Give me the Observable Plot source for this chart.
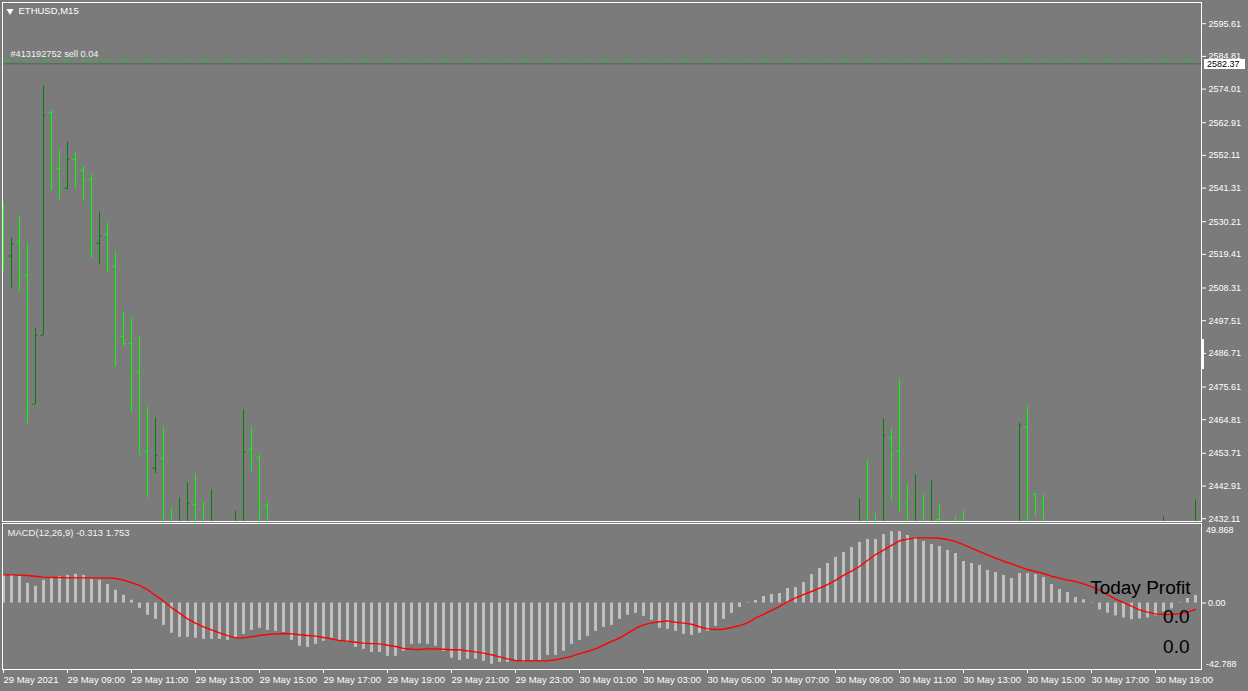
<!DOCTYPE html>
<html><head><meta charset="utf-8">
<script src="https://cdn.jsdelivr.net/npm/d3@7"></script>
<script src="https://cdn.jsdelivr.net/npm/@observablehq/plot@0.6"></script>
<style>
html,body{margin:0;padding:0;background:#7b7b7b;}
#wrap{position:relative;width:1248px;height:691px;background:#7b7b7b;overflow:hidden;}
#wrap svg{display:block;position:absolute;left:0;}
.tag{position:absolute;background:#fff;color:#000;font:9px "Liberation Sans",Arial,sans-serif;line-height:10px;height:10px;padding:0 0 0 3px;box-sizing:border-box;}
.scroll{position:absolute;background:#fff;}
</style></head><body><div id="wrap"></div>
<script>
// ---------- data ----------
const symbolLabel = "ETHUSD,M15";
const orderLabel = "#413192752 sell 0.04";
const macdLabel = "MACD(12,26,9) -0.313 1.753";
const profitTitle = "Today Profit";
const profitValues = ["0.0", "0.0"];
const startTime = "2021-05-29T07:00:00Z";
const barMinutes = 15;
const sellPrice = 2583.5;
const bidPrice = 2582.37;
const priceTicks = [2595.61, 2584.81, 2574.01, 2562.91, 2552.11, 2541.31, 2530.21, 2519.41, 2508.31,
  2497.51, 2486.71, 2475.61, 2464.81, 2453.71, 2442.91, 2432.11];
const macdMax = 49.868, macdMin = -42.788;
const timeTickLabels = ["29 May 2021", "29 May 09:00", "29 May 11:00", "29 May 13:00", "29 May 15:00",
  "29 May 17:00", "29 May 19:00", "29 May 21:00", "29 May 23:00", "30 May 01:00", "30 May 03:00",
  "30 May 05:00", "30 May 07:00", "30 May 09:00", "30 May 11:00", "30 May 13:00", "30 May 15:00",
  "30 May 17:00", "30 May 19:00"];

// OHLC bars (bar index counted from 29 May 07:00, M15)
const barIndex = [0,1,2,3,4,5,6,7,8,9,10,11,12,13,14,15,16,17,18,19,20,21,22,23,24,25,26,29,30,31,32,33,
  107,108,109,110,111,112,113,114,115,116,117,119,120,127,128,129,130,145,149];
const barOpen = [2527.0,2518.88,2523.74,2512.51,2469.90,2492.69,2566.35,2547.85,2541.24,2550.82,2547.19,2544.21,
  2523.08,2526.05,2515.48,2492.36,2490.05,2480.47,2454.37,2448.76,2452.06,2429.5,2424.0,2428.0,2436.87,2430.0,
  2425.0,2424.0,2429.0,2455.03,2452.39,2436.54,
  2426.0,2431.0,2430.0,2429.0,2458.77,2454.47,2436.97,2427.0,2430.0,2426.0,2431.9,2431.0,2430.0,2429.0,2462.40,
  2440.27,2436.97,2428.0,2427.0];
const barHigh = [2536.29,2524.83,2532.09,2523.08,2495.10,2575.03,2566.78,2553.89,2556.54,2552.90,2548.51,2545.97,
  2533.41,2529.68,2520.43,2500.29,2498.40,2492.46,2468.91,2465.37,2462.40,2435.64,2438.95,2443.90,2446.87,2437.53,
  2441.59,2434.65,2468.01,2462.40,2453.05,2437.20,
  2438.62,2451.17,2433.76,2465.04,2461.74,2478.25,2443.57,2446.54,2440.27,2444.56,2436.97,2432.67,2434.65,2463.72,
  2469.34,2440.27,2439.94,2432.67,2438.29];
const barLow = [2513.70,2508.31,2507.09,2463.49,2469.90,2492.69,2540.45,2537.48,2540.78,2541.11,2537.15,2517.99,
  2516.01,2513.36,2482.32,2488.92,2467.12,2453.38,2439.05,2446.97,2426.5,2424.0,2422.0,2424.0,2424.0,2423.0,
  2422.0,2421.0,2426.0,2447.63,2430.0,2427.0,
  2424.0,2425.0,2425.0,2426.0,2437.96,2434.09,2427.0,2425.0,2424.0,2423.0,2426.0,2426.0,2425.0,2426.0,2429.0,
  2433.00,2428.0,2425.0,2425.0];
const barClose = [2518.45,2522.75,2512.51,2469.57,2492.69,2565.45,2547.85,2541.90,2550.82,2547.19,2543.88,2522.75,
  2525.39,2515.81,2491.37,2490.05,2480.47,2453.38,2447.44,2453.05,2429.0,2425.5,2430.0,2437.20,2427.0,2426.0,
  2430.0,2430.5,2454.04,2452.72,2435.55,2429.0,
  2430.0,2428.0,2427.0,2459.66,2453.05,2435.97,2430.0,2431.0,2427.0,2430.0,2428.0,2428.0,2428.0,2462.96,2439.61,
  2436.30,2430.0,2431.0,2431.0];

// MACD main (histogram) and signal, one value per bar (150 bars)
const macdHist = [18.5,18.3,17.6,13.0,11.0,15.0,16.3,17.6,18.3,18.9,
  18.3,15.6,15.0,12.3,8.4,5.1,1.8,-3.5,-8.1,-10.8,
  -14.8,-20.0,-22.7,-22.7,-23.3,-24.0,-24.0,-24.0,-24.7,-22.7,
  -20.7,-18.1,-16.7,-18.1,-18.7,-19.4,-24.7,-28.6,-29.3,-27.3,
  -25.3,-23.3,-25.3,-26.0,-29.3,-30.6,-32.6,-32.6,-35.2,-35.2,
  -31.9,-27.3,-27.0,-27.3,-28.6,-31.9,-36.5,-37.9,-37.2,-37.2,
  -38.5,-40.5,-39.2,-39.2,-38.5,-39.2,-37.9,-37.9,-34.6,-34.6,
  -31.9,-27.3,-24.7,-22.0,-18.7,-16.1,-14.8,-10.8,-8.1,-6.8,
  -8.8,-11.4,-16.7,-17.4,-18.7,-20.7,-21.4,-20.0,-18.7,-15.4,
  -10.8,-6.8,-2.9,0.3,1.7,4.3,5.6,6.3,9.6,10.2,
  13.5,18.8,22.8,26.1,30.1,33.4,36.7,40.0,42.0,42.0,
  45.2,47.2,47.2,44.6,43.3,40.6,38.6,37.3,34.7,32.7,
  27.4,26.1,24.8,21.5,20.1,18.2,16.2,19.5,19.5,18.8,
  16.8,12.2,8.9,6.9,3.6,2.1,0.2,-4.5,-6.7,-8.5,
  -9.8,-11.1,-10.5,-9.8,-8.5,-5.8,-3.9,0.3,3.0,5.0];
const macdSignal = [18.6,18.6,18.4,18.2,17.7,17.1,16.8,16.8,16.6,16.6,
  16.6,16.6,16.6,16.6,16.2,15.1,13.5,11.6,8.9,5.0,
  1.2,-3.0,-6.7,-10.5,-13.3,-15.7,-17.7,-19.7,-21.5,-23.0,
  -23.0,-22.3,-21.5,-20.8,-20.4,-20.1,-20.4,-21.0,-21.5,-21.9,
  -22.8,-23.7,-24.8,-25.2,-25.9,-26.5,-26.8,-27.0,-27.9,-28.7,
  -30.0,-30.5,-30.7,-30.3,-30.3,-30.5,-30.9,-30.9,-31.6,-32.3,
  -33.1,-34.2,-35.6,-36.9,-38.0,-38.2,-38.2,-38.2,-38.2,-37.5,
  -36.4,-35.3,-33.4,-32.0,-30.3,-27.9,-25.4,-23.2,-20.1,-16.8,
  -14.4,-13.1,-12.4,-11.8,-12.7,-13.3,-14.0,-15.7,-17.1,-17.5,
  -17.3,-16.2,-14.9,-13.1,-10.0,-7.5,-4.8,-2.3,0.8,3.4,
  5.6,7.6,9.8,12.2,14.9,18.2,21.0,24.1,28.1,32.0,
  34.9,38.0,41.1,42.2,43.0,43.0,43.0,42.8,41.9,40.6,
  38.6,36.2,34.0,31.8,29.6,27.6,25.9,23.9,22.1,20.8,
  19.5,17.7,16.4,15.1,14.2,12.6,10.8,8.4,5.6,2.6,
  0.2,-2.0,-4.5,-6.0,-7.2,-7.6,-7.6,-7.0,-6.0,-4.2];

// ---------- styles ----------
const FONT = '"Liberation Sans", Arial, sans-serif';
const UP = "#008000", DOWN = "#00ff00";
const HIST = "#c0c0c0", SIGNAL = "#ff0000";

// ---------- build ----------
const t0 = Date.parse(startTime), barMs = barMinutes * 60000;
const T = i => new Date(t0 + i * barMs);
const xDomain = [T(0), T(149.75)], xRange = [3, 1201];

const bars = barIndex.map((i, k) => ({i, t: T(i), o: barOpen[k], h: barHigh[k], l: barLow[k], c: barClose[k]}));
const barColor = d => d.c >= d.o ? UP : DOWN;
const hist = macdHist.map((v, i) => ({t: T(i), v}));
const sig = macdSignal.map((v, i) => ({t: T(i), v}));
const timeTicks = timeTickLabels.map((_, j) => T(j * 8));
const labelMap = new Map(timeTicks.map((d, j) => [+d, timeTickLabels[j]]));

const wrap = document.getElementById("wrap");

const price = Plot.plot({
  width: 1248, height: 522,
  marginLeft: 2, marginRight: 47, marginTop: 2, marginBottom: 1,
  style: {background: "transparent", fontFamily: FONT, fontSize: "9px", color: "#fff", overflow: "visible"},
  x: {type: "utc", domain: xDomain, range: xRange, axis: null},
  y: {domain: [2432.11, 2595.61], range: [518.2, 23.2]},
  marks: [
    Plot.ruleY([bidPrice], {stroke: "#5e5e5e"}),
    Plot.ruleY([sellPrice], {stroke: "#00dd00", strokeDasharray: "8.3,4.3,3,4.4"}),
    Plot.ruleX(bars, {x: "t", y1: "l", y2: "h", stroke: barColor, clip: true}),
    Plot.ruleY(bars, {y: "o", x1: d => T(d.i - 0.3125), x2: "t", stroke: barColor, clip: true}),
    Plot.ruleY(bars, {y: "c", x1: "t", x2: d => T(d.i + 0.3125), stroke: barColor, clip: true}),
    Plot.frame({stroke: "#ffffff"}),
    Plot.axisY(priceTicks, {anchor: "right", tickSize: 4, tickPadding: 3, tickFormat: d => d.toFixed(2),
      color: "#ffffff", fontSize: 9, label: null}),
    Plot.dot([symbolLabel], {frameAnchor: "top-left", dx: 7.5, dy: 8.5, symbol: "triangle", rotate: 180, r: 2.6,
      fill: "#ffffff", stroke: "none"}),
    Plot.text([symbolLabel], {frameAnchor: "top-left", dx: 16, dy: 5, lineAnchor: "top", text: d => d,
      textAnchor: "start", fill: "#ffffff", fontSize: 9.5}),
    Plot.text([orderLabel], {y: () => sellPrice, frameAnchor: "left", dx: 8, dy: -6.5, text: d => d,
      textAnchor: "start", fill: "#f4f4f4", fontSize: 9.2})
  ]
});
price.style.top = "0px";
wrap.appendChild(price);

const macd = Plot.plot({
  width: 1248, height: 169,
  marginLeft: 2, marginRight: 47, marginTop: 1, marginBottom: 22,
  style: {background: "transparent", fontFamily: FONT, fontSize: "9px", color: "#fff", overflow: "visible"},
  x: {type: "utc", domain: xDomain, range: xRange},
  y: {domain: [macdMin, macdMax], range: [145.3, 5]},
  marks: [
    Plot.ruleX(hist, {x: "t", y1: 0, y2: "v", stroke: HIST, strokeWidth: 3}),
    Plot.line(sig, {x: "t", y: "v", stroke: SIGNAL, strokeWidth: 1.4}),
    Plot.frame({stroke: "#ffffff"}),
    Plot.axisY([0], {anchor: "right", tickSize: 4, tickPadding: 2.5, tickFormat: d => d.toFixed(2),
      color: "#ffffff", fontSize: 9, label: null}),
    Plot.text([macdMax], {y: d => d, frameAnchor: "right", dx: 4.5, dy: 2.5, text: d => d.toFixed(3),
      textAnchor: "start", fill: "#ffffff", fontSize: 9}),
    Plot.text([macdMin], {y: d => d, frameAnchor: "right", dx: 4.5, dy: -4, text: d => d.toFixed(3),
      textAnchor: "start", fill: "#ffffff", fontSize: 9}),
    Plot.axisX(timeTicks, {anchor: "bottom", tickSize: 4, tickPadding: 3, tickFormat: d => labelMap.get(+d),
      textAnchor: "start", color: "#ffffff", fontSize: 9.5, label: null}),
    Plot.text([macdLabel], {frameAnchor: "top-left", dx: 5, dy: 6, lineAnchor: "top", text: d => d,
      textAnchor: "start", fill: "#f4f4f4", fontSize: 9.5}),
    Plot.text([profitTitle], {frameAnchor: "top-right", dx: -11, dy: 57, lineAnchor: "top", text: d => d,
      textAnchor: "end", fill: "#000000", fontSize: 19}),
    Plot.text([profitValues[0]], {frameAnchor: "top-right", dx: -12, dy: 86.3, lineAnchor: "top", text: d => d,
      textAnchor: "end", fill: "#000000", fontSize: 19}),
    Plot.text([profitValues[1]], {frameAnchor: "top-right", dx: -12, dy: 116.3, lineAnchor: "top", text: d => d,
      textAnchor: "end", fill: "#000000", fontSize: 19})
  ]
});
macd.style.top = "522px";
wrap.appendChild(macd);

// current bid price tag, placed through the price chart's own y scale
const yBid = price.scale("y").apply(bidPrice) + 0.5;
const tag = document.createElement("div");
tag.className = "tag";
tag.textContent = bidPrice.toFixed(2);
tag.style.left = "1204px";
tag.style.width = "41px";
tag.style.top = (yBid - 5) + "px";
wrap.appendChild(tag);

// vertical scroll marker on the price axis
const sc = document.createElement("div");
sc.className = "scroll";
Object.assign(sc.style, {left: "1201px", top: "339px", width: "3px", height: "30px"});
wrap.appendChild(sc);
</script></body></html>
